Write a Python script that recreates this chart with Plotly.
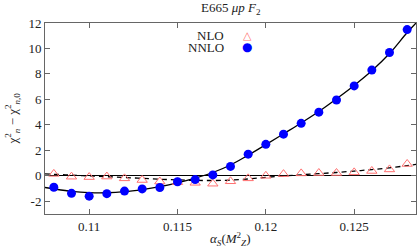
import plotly.graph_objects as go

# data points
alpha = [0.108, 0.109, 0.110, 0.111, 0.112, 0.113, 0.114, 0.115, 0.116, 0.117, 0.118,
         0.119, 0.120, 0.121, 0.122, 0.123, 0.124, 0.125, 0.126, 0.127, 0.128]
nnlo = [-0.90, -1.38, -1.60, -1.40, -1.20, -1.03, -0.92, -0.47, -0.30, 0.07, 0.74,
        1.70, 2.47, 3.27, 4.12, 5.00, 5.95, 7.06, 8.30, 9.68, 11.48]
nlo = [0.15, -0.07, -0.10, -0.06, -0.20, -0.33, -0.45, -0.50, -0.55, -0.62, -0.43,
       -0.20, 0.00, 0.13, 0.19, 0.22, 0.22, 0.27, 0.38, 0.50, 0.93]

# fit curves
curve_x = [0.1075, 0.108, 0.109, 0.110, 0.111, 0.112, 0.113, 0.114, 0.115, 0.116, 0.117,
           0.118, 0.119, 0.120, 0.121, 0.122, 0.123, 0.124, 0.125, 0.126, 0.127, 0.128, 0.1285]
nnlo_fit = [-0.92, -1.03, -1.22, -1.32, -1.33, -1.25, -1.08, -0.85, -0.55, -0.18, 0.26,
            0.85, 1.62, 2.45, 3.30, 4.15, 5.05, 6.05, 7.10, 8.25, 9.60, 11.25, 12.0]
nlo_fit = [0.15, 0.12, 0.05, -0.01, -0.07, -0.13, -0.20, -0.27, -0.32, -0.36, -0.37,
           -0.34, -0.25, -0.12, -0.01, 0.08, 0.17, 0.26, 0.37, 0.49, 0.63, 0.80, 0.90]

x_ticks = [0.11, 0.115, 0.12, 0.125]
x_tick_labels = ["0.11", "0.115", "0.12", "0.125"]
y_ticks = [-2, 0, 2, 4, 6, 8, 10, 12]

FONT = "Liberation Serif"
TXT = "#222222"
NLO_COLOR = "#ff7070"
NNLO_COLOR = "#0000ff"
FRAME = "#666666"

fig = go.Figure()
fig.add_trace(go.Scatter(x=curve_x, y=nlo_fit, mode="lines", line_shape="spline",
                         line=dict(color="black", width=1.3, dash="5px,4px"), showlegend=False))
fig.add_trace(go.Scatter(x=curve_x, y=nnlo_fit, mode="lines", line_shape="spline",
                         line=dict(color="black", width=1.3), showlegend=False))
fig.add_trace(go.Scatter(x=alpha, y=nlo, mode="markers", name="NLO",
                         marker=dict(symbol="triangle-up-open", size=9, color=NLO_COLOR,
                                     line=dict(width=1, color=NLO_COLOR)), showlegend=False))
fig.add_trace(go.Scatter(x=alpha, y=nnlo, mode="markers", name="NNLO",
                         marker=dict(symbol="circle", size=9, color=NNLO_COLOR), showlegend=False))

axis_common = dict(showline=True, linecolor=FRAME, linewidth=1, mirror="ticks",
                   ticks="inside", ticklen=5, tickcolor=FRAME, showgrid=False,
                   automargin=False,
                   tickfont=dict(family=FONT, size=13, color=TXT))

fig.update_xaxes(range=[0.1075, 0.1285], tickvals=x_ticks, ticktext=x_tick_labels,
                 zeroline=False, **axis_common)
fig.update_yaxes(range=[-3, 12], tickvals=y_ticks, ticktext=[str(v) for v in y_ticks],
                 zeroline=True, zerolinecolor="black", zerolinewidth=1.3, **axis_common)

# axis titles
fig.add_annotation(xref="paper", yref="paper", x=0.5, y=-0.13, yanchor="middle",
                   text="<i>α<sub>S</sub></i>(<i>M</i><sup>2</sup><sub><i>Z</i></sub>)",
                   showarrow=False, font=dict(family=FONT, size=13, color=TXT))
fig.add_annotation(xref="paper", yref="paper", x=-0.089, y=0.5, xanchor="center",
                   textangle=-90,
                   text="χ<sup>2</sup><sub><i>n</i></sub> − χ<sup>2</sup><sub><i>n</i>,0</sub>",
                   showarrow=False, font=dict(family=FONT, size=13, color=TXT))
# title
fig.add_annotation(xref="paper", yref="paper", x=0.5, y=1.078, yanchor="middle",
                   text="E665 <i>μp F</i><sub>2</sub>", showarrow=False,
                   font=dict(family=FONT, size=13, color=TXT))
# legend
fig.add_annotation(xref="paper", yref="paper", x=0.487, y=0.935, xanchor="right", yanchor="middle",
                   text="NLO", showarrow=False, font=dict(family=FONT, size=13, color=TXT))
fig.add_annotation(xref="paper", yref="paper", x=0.487, y=0.872, xanchor="right", yanchor="middle",
                   text="NNLO", showarrow=False, font=dict(family=FONT, size=13, color=TXT))
fig.add_annotation(xref="paper", yref="paper", x=0.545, y=0.935, xanchor="center", yanchor="middle",
                   text="△", showarrow=False, font=dict(family="DejaVu Sans", size=11, color=NLO_COLOR))
fig.add_annotation(xref="paper", yref="paper", x=0.545, y=0.872, xanchor="center", yanchor="middle",
                   text="●", showarrow=False, font=dict(family="DejaVu Sans", size=12, color=NNLO_COLOR))

fig.update_layout(width=417, height=250, margin=dict(l=45, r=1, t=23, b=36),
                  paper_bgcolor="white", plot_bgcolor="white", showlegend=False)

fig.write_html("out.html", config={"displayModeBar": False},
               post_script="document.body.style.margin='0';document.body.style.overflow='hidden';")
